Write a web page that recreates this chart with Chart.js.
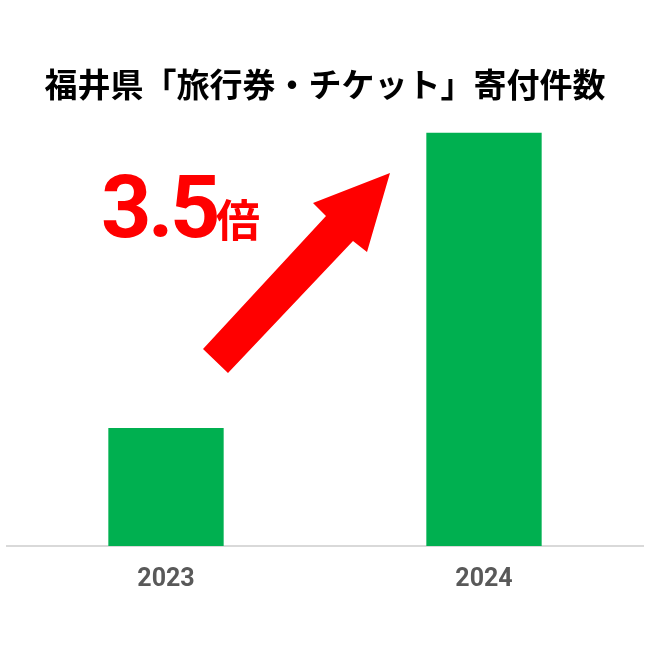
<!DOCTYPE html>
<html><head><meta charset="utf-8">
<script src="https://cdn.jsdelivr.net/npm/chart.js@4"></script>
<style>html,body{margin:0;padding:0;background:#fff}#wrap{width:650px;height:650px}</style>
</head><body><div id="wrap"><canvas id="c" width="650" height="650"></canvas></div>
<script>
const categories = ["2023", "2024"];
const donations = [100, 350];
const titleText = "福井県「旅行券・チケット」寄付件数";
const ratioNumber = "3.5";
const ratioUnit = "倍";

const arrowPlugin = {
  id: 'arrowNote',
  afterDatasetsDraw(chart) {
    const ctx = chart.ctx;
    ctx.save();
    ctx.fillStyle = '#ff0000';
    ctx.beginPath();
    ctx.moveTo(203, 349);
    ctx.lineTo(228, 373);
    ctx.lineTo(353, 241);
    ctx.lineTo(367, 252);
    ctx.lineTo(390, 173);
    ctx.lineTo(313, 203);
    ctx.lineTo(326, 216);
    ctx.closePath();
    ctx.fill();
    ctx.font = 'bold 88px Roboto';
    ctx.textBaseline = 'alphabetic';
    ctx.textAlign = 'left';
    const chars = ratioNumber.split('');
    const xs = [101, 148, 170];
    chars.forEach((ch, i) => ctx.fillText(ch, xs[i], 237));
    ctx.font = 'bold 44px "Noto Sans CJK JP"';
    ctx.fillText(ratioUnit, 216, 237);
    ctx.restore();
  }
};

new Chart(document.getElementById('c'), {
  type: 'bar',
  data: {
    labels: categories,
    datasets: [{
      data: donations,
      backgroundColor: '#00b050',
      borderWidth: 0,
      barPercentage: 0.9,
      categoryPercentage: 0.403
    }]
  },
  options: {
    responsive: false,
    animation: false,
    devicePixelRatio: 1,
    layout: { padding: { left: 7, right: 7, top: 0, bottom: 36 } },
    plugins: {
      legend: { display: false },
      tooltip: { enabled: false },
      title: {
        display: true,
        text: titleText,
        color: '#000',
        font: { family: '"Noto Sans CJK JP"', size: 33, weight: 'bold', lineHeight: 1.2 },
        padding: { top: 65, bottom: 28 }
      }
    },
    scales: {
      x: {
        grid: { display: false, drawTicks: false },
        border: { display: true, color: '#d9d9d9', width: 2 },
        ticks: { color: '#595959', font: { family: 'Roboto', size: 25, weight: 'bold', lineHeight: 1.2 }, padding: 19 }
      },
      y: {
        display: false,
        min: 0,
        max: 350
      }
    }
  },
  plugins: [arrowPlugin]
});
</script>
</body></html>
